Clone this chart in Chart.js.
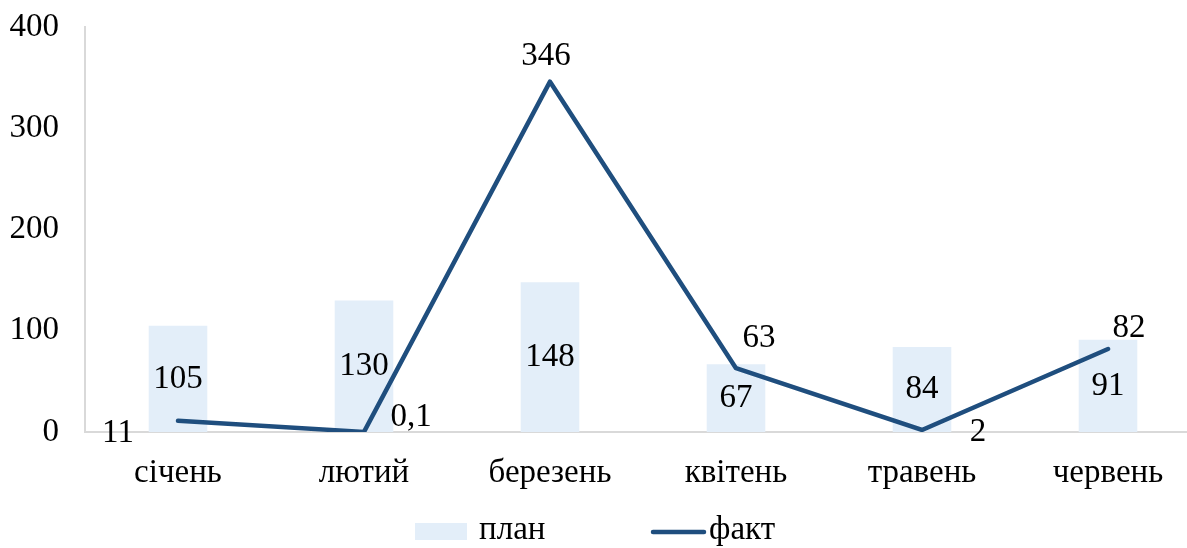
<!DOCTYPE html>
<html>
<head>
<meta charset="utf-8">
<script src="https://cdn.jsdelivr.net/npm/chart.js@4"></script>
<style>
  html, body { margin: 0; padding: 0; background: #fff; overflow: hidden; }
  #wrap { position: relative; width: 1201px; height: 548px; }
</style>
</head>
<body>
<div id="wrap"><canvas id="chart"></canvas></div>
<script>
const months = ['січень', 'лютий', 'березень', 'квітень', 'травень', 'червень'];
const plan = [105, 130, 148, 67, 84, 91];
const fact = [11, 0.1, 346, 63, 2, 82];
const yTicks = [0, 100, 200, 300, 400];

const FONT = '"Liberation Serif", "Times New Roman", serif';
const SIZE = 33;
const barColor = '#E3EEF9';
const lineColor = '#1F4E7E';

// where each "факт" label sits relative to its point
const factOffsets = [[-60, 12], [47, -15], [-4, -25], [23, -30], [56, 2], [21, -21]];

const fmt = v => String(v).replace('.', ',');

const valueLabels = {
  id: 'valueLabels',
  afterDatasetsDraw(chart) {
    const ctx = chart.ctx;
    ctx.save();
    ctx.font = SIZE + 'px ' + FONT;
    ctx.fillStyle = '#000';
    ctx.textAlign = 'center';
    ctx.textBaseline = 'middle';
    chart.getDatasetMeta(0).data.forEach((bar, i) => {
      ctx.fillText(fmt(plan[i]), bar.x, (bar.y + bar.base) / 2);
    });
    chart.getDatasetMeta(1).data.forEach((pt, i) => {
      const o = factOffsets[i];
      ctx.fillText(fmt(fact[i]), pt.x + o[0], pt.y + o[1]);
    });
    ctx.restore();
  }
};

const legendBox = {
  id: 'legendBox',
  afterDraw(chart) {
    const ctx = chart.ctx;
    ctx.save();
    ctx.fillStyle = barColor;
    ctx.fillRect(415, 523, 52, 17);
    ctx.strokeStyle = lineColor;
    ctx.lineWidth = 4.5;
    ctx.lineCap = 'round';
    ctx.beginPath();
    ctx.moveTo(653, 532);
    ctx.lineTo(704, 532);
    ctx.stroke();
    ctx.font = SIZE + 'px ' + FONT;
    ctx.fillStyle = '#000';
    ctx.textBaseline = 'middle';
    ctx.fillText('план', 479, 530);
    ctx.fillText('факт', 709, 530);
    ctx.restore();
  }
};

new Chart(document.getElementById('chart'), {
  data: {
    labels: months,
    datasets: [{
      type: 'bar',
      label: 'план',
      data: plan,
      backgroundColor: barColor,
      categoryPercentage: 1,
      barPercentage: 0.315,
      order: 2
    }, {
      type: 'line',
      label: 'факт',
      data: fact,
      borderColor: lineColor,
      borderWidth: 4.5,
      borderCapStyle: 'round',
      borderJoinStyle: 'round',
      pointRadius: 0,
      tension: 0,
      order: 1
    }]
  },
  options: {
    responsive: true,
    maintainAspectRatio: false,
    animation: false,
    layout: { padding: { top: 27, right: 0, bottom: 0, left: 0 } },
    plugins: {
      legend: { display: false },
      tooltip: { enabled: false }
    },
    scales: {
      x: {
        offset: true,
        grid: { display: false, drawTicks: false },
        border: { color: '#D9D9D9', width: 2 },
        ticks: { color: '#000', font: { family: FONT, size: SIZE }, padding: 22, maxRotation: 0 },
        afterFit: s => { s.height = 116; s.paddingLeft = 0; s.paddingRight = 0; }
      },
      y: {
        min: 0,
        max: 400,
        afterBuildTicks: s => { s.ticks = yTicks.map(v => ({ value: v })); },
        grid: { display: false, drawTicks: false },
        border: { color: '#D9D9D9', width: 2 },
        ticks: { color: '#000', font: { family: FONT, size: SIZE }, padding: 26 },
        afterFit: s => { s.width = 85; s.paddingTop = 0; s.paddingBottom = 0; }
      }
    }
  },
  plugins: [valueLabels, legendBox]
});
</script>
</body>
</html>
